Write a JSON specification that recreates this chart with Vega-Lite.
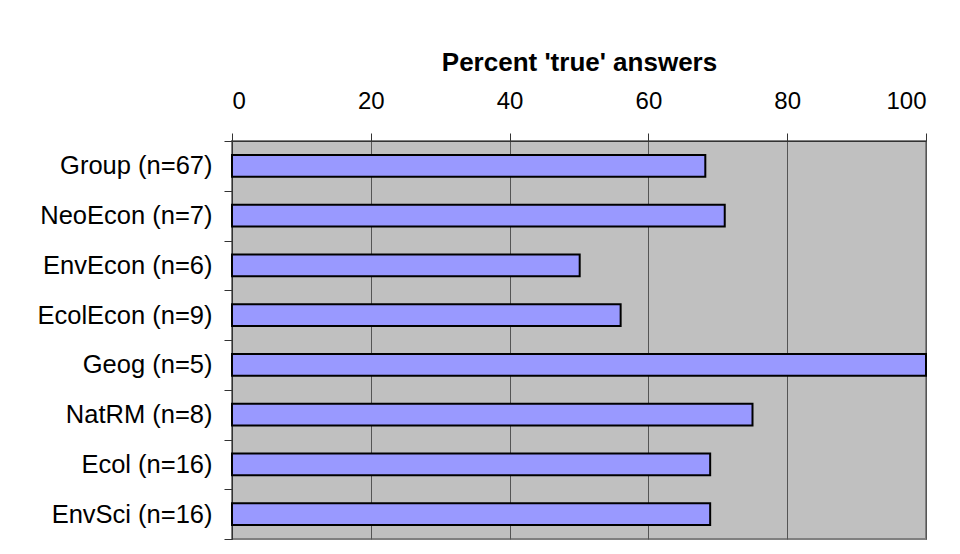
{
  "$schema": "https://vega.github.io/schema/vega-lite/v6.json",
  "width": 694,
  "height": 398,
  "autosize": "none",
  "padding": {"left": 232, "top": 141, "right": 34, "bottom": 15},
  "background": "white",
  "data": {
    "values": [
      {"group": "Group (n=67)", "pct": 68.2},
      {"group": "NeoEcon (n=7)", "pct": 71.0},
      {"group": "EnvEcon (n=6)", "pct": 50.1},
      {"group": "EcolEcon (n=9)", "pct": 56.0},
      {"group": "Geog (n=5)", "pct": 100},
      {"group": "NatRM (n=8)", "pct": 75.0},
      {"group": "Ecol (n=16)", "pct": 68.9},
      {"group": "EnvSci (n=16)", "pct": 68.9}
    ]
  },
  "mark": {"type": "bar", "fill": "#9999FF", "stroke": "#000000", "strokeWidth": 2, "height": {"band": 0.44}},
  "encoding": {
    "y": {
      "field": "group",
      "type": "nominal",
      "sort": null,
      "scale": {"paddingInner": 0, "paddingOuter": 0},
      "axis": {
        "title": null,
        "tickBand": "extent",
        "tickSize": 8,
        "tickColor": "#333333",
        "domainColor": "#333333",
        "labelPadding": 12,
        "labelFont": "Liberation Sans",
        "labelFontSize": 25.5,
        "labelColor": "#000000"
      }
    },
    "x": {
      "field": "pct",
      "type": "quantitative",
      "scale": {"domain": [0, 100], "nice": false},
      "axis": {
        "orient": "top",
        "values": [0, 20, 40, 60, 80, 100],
        "title": "Percent 'true' answers",
        "titleFont": "Liberation Sans",
        "titleFontSize": 26,
        "titleFontWeight": "bold",
        "titleColor": "#000000",
        "titlePadding": 14,
        "grid": true,
        "gridColor": "#555555",
        "gridWidth": 1,
        "tickSize": 8,
        "tickColor": "#333333",
        "domainColor": "#333333",
        "labelPadding": 20,
        "labelFont": "Liberation Sans",
        "labelFontSize": 24,
        "labelColor": "#000000"
      }
    }
  },
  "config": {
    "view": {"fill": "#C0C0C0", "stroke": "#808080", "strokeWidth": 2}
  }
}
